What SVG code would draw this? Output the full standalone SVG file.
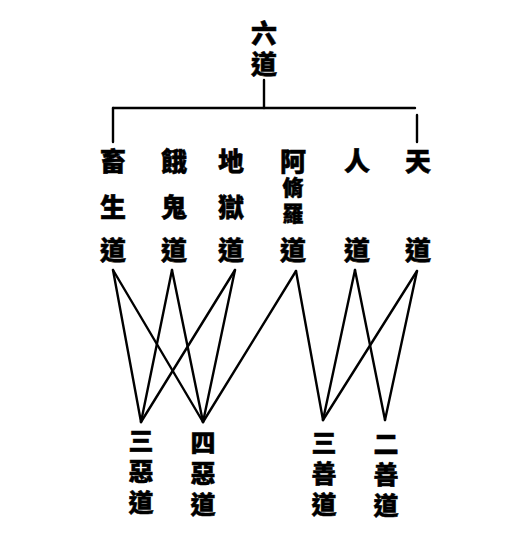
<svg xmlns="http://www.w3.org/2000/svg" width="522" height="535" viewBox="0 0 522 535">
<style>
.t{font-family:"Noto Sans CJK TC","Noto Sans CJK JP",sans-serif;font-weight:900;font-size:26px;fill:#000;stroke:#000;stroke-width:0.5;text-anchor:middle;dominant-baseline:central}
.v{font-family:"Noto Sans CJK TC","Noto Sans CJK JP",sans-serif;font-weight:900;font-size:25px;fill:#000;stroke:#000;stroke-width:0.5;writing-mode:vertical-rl;text-orientation:upright;text-anchor:start;letter-spacing:6px}
.s{font-size:21px;letter-spacing:5px}
.c line{stroke:#000;stroke-width:2.4;stroke-linecap:round}
</style>
<rect width="522" height="535" fill="#fff"/>
<g id="root"><text class="v" x="264" y="20" style="font-size:26px;letter-spacing:5px">六道</text></g>
<g id="n1"><text class="t" x="113" y="159">畜</text><text class="t" x="113" y="205">生</text><text class="t" x="113" y="248">道</text></g>
<g id="n2"><text class="t" x="174" y="159">餓</text><text class="t" x="174" y="205">鬼</text><text class="t" x="174" y="248">道</text></g>
<g id="n3"><text class="t" x="231" y="159">地</text><text class="t" x="231" y="205">獄</text><text class="t" x="231" y="248">道</text></g>
<g id="n4"><text class="t" x="293" y="159">阿</text><text class="v s" x="293" y="177">脩羅</text><text class="t" x="293" y="248">道</text></g>
<g id="n5"><text class="t" x="357" y="159">人</text><text class="t" x="357" y="248">道</text></g>
<g id="n6"><text class="t" x="418" y="159">天</text><text class="t" x="418" y="248">道</text></g>
<g id="b1"><text class="v" x="141" y="428">三惡道</text></g>
<g id="b2"><text class="v" x="203" y="430">四惡道</text></g>
<g id="b3"><text class="v" x="324" y="430">三善道</text></g>
<g id="b4"><text class="v" x="386" y="431">二善道</text></g>
<g id="connectors" class="c">
<line x1="264" y1="80" x2="264" y2="108"/>
<line x1="113" y1="108" x2="415" y2="108"/>
<line x1="113" y1="108" x2="113" y2="142"/>
<line x1="417" y1="115" x2="417" y2="142"/>
<line x1="113" y1="270" x2="141" y2="422"/>
<line x1="113" y1="270" x2="203" y2="422"/>
<line x1="172" y1="270" x2="141" y2="422"/>
<line x1="172" y1="270" x2="203" y2="422"/>
<line x1="235" y1="270" x2="141" y2="422"/>
<line x1="235" y1="270" x2="203" y2="422"/>
<line x1="296" y1="271" x2="203" y2="422"/>
<line x1="296" y1="271" x2="323" y2="420"/>
<line x1="355" y1="270" x2="323" y2="420"/>
<line x1="355" y1="270" x2="385" y2="420"/>
<line x1="417" y1="271" x2="323" y2="420"/>
<line x1="417" y1="271" x2="385" y2="420"/>
</g>
</svg>
